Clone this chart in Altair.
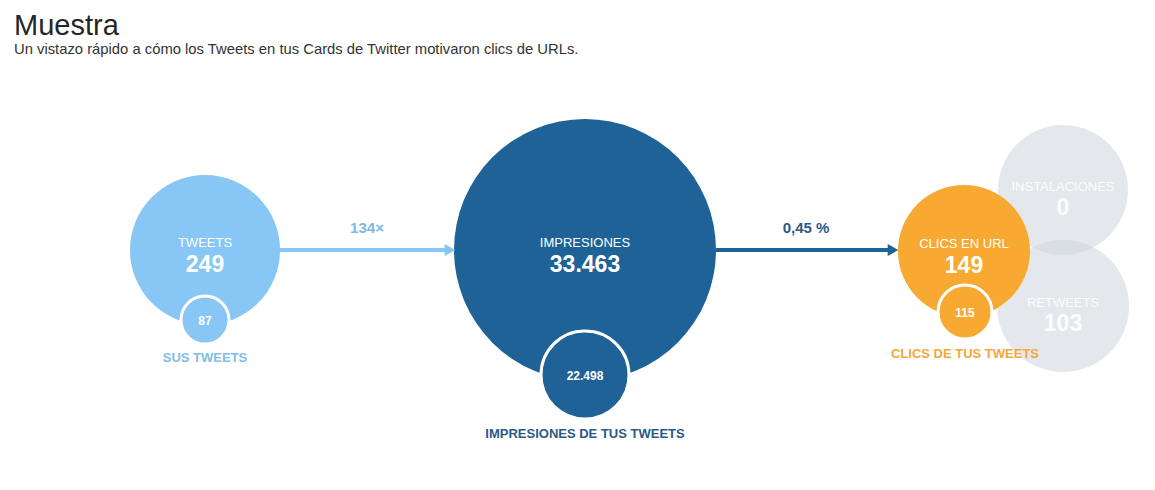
import altair as alt
import pandas as pd

# ---------------- values (text content) ----------------
title_text = "Muestra"
subtitle_text = "Un vistazo rápido a cómo los Tweets en tus Cards de Twitter motivaron clics de URLs."
node_labels = ["TWEETS", "IMPRESIONES", "CLICS EN URL", "INSTALACIONES", "RETWEETS"]
node_values = ["249", "33.463", "149", "0", "103"]
sub_values = ["87", "22.498", "115"]
sub_labels = ["SUS TWEETS", "IMPRESIONES DE TUS TWEETS", "CLICS DE TUS TWEETS"]
ratio_labels = ["134×", "0,45 %"]

# ---------------- layout (image pixel coordinates) ----------------
node_x = [205, 585, 964, 1063, 1063]
node_y = [250, 250, 251, 190, 306]
node_r = [75, 131, 66, 65, 66]
sub_x = [205, 585, 965]
sub_y = [320, 375, 312]
sub_r = [24, 44, 27]
sub_label_y = [358, 434, 354]
arrow_x1 = [280, 716]
arrow_x2 = [446, 889]
arrow_y = [250, 250]
ratio_x = [367, 806]
ratio_y = [228, 228]

# ---------------- styles ----------------
LB, DB, OR, GR = "#88c6f5", "#1e6297", "#f8a932", "#cdd5dd"
LB_T, DB_T, OR_T = "#7fbde6", "#2b5b8a", "#f3a83a"
FONT = "Liberation Sans"

W, H = 1135, 460
xs = alt.Scale(domain=[8, 8 + W], zero=False, nice=False)
ys = alt.Scale(domain=[8, 8 + H], zero=False, nice=False, reverse=True)


def X(f="x"):
    return alt.X(f"{f}:Q", scale=xs, axis=None)


def Y(f="y"):
    return alt.Y(f"{f}:Q", scale=ys, axis=None)


main_colors = [LB, DB, OR, GR, GR]
nodes = pd.DataFrame({
    "label": node_labels, "value": node_values,
    "x": node_x, "y": node_y,
    "size": [(2 * r) ** 2 for r in node_r],
    "color": main_colors,
})
gray_nodes = nodes.iloc[3:]
main_nodes = nodes.iloc[:3]

subs = pd.DataFrame({
    "value": sub_values, "label": sub_labels,
    "x": sub_x, "y": sub_y, "ly": sub_label_y,
    "size": [(2 * r) ** 2 for r in sub_r],
    "color": [LB, DB, OR], "tcolor": [LB_T, DB_T, OR_T],
})

arrows = pd.DataFrame({
    "x": arrow_x1, "x2": arrow_x2, "y": arrow_y,
    "color": [LB, DB],
})
heads = pd.DataFrame({
    "x": [x + 4 for x in arrow_x2], "y": arrow_y, "color": [LB, DB],
})
ratios = pd.DataFrame({
    "label": ratio_labels, "x": ratio_x, "y": ratio_y,
    "color": ["#80b8e0", DB_T],
})
titles = pd.DataFrame({
    "text": [title_text, subtitle_text],
    "x": [14, 14], "y": [35, 54],
})

gray_circles = alt.Chart(gray_nodes).mark_point(
    shape="circle", filled=True, opacity=0.55, strokeWidth=0
).encode(x=X(), y=Y(), size=alt.Size("size:Q", scale=None),
         color=alt.Color("color:N", scale=None))

main_circles = alt.Chart(main_nodes).mark_point(
    shape="circle", filled=True, opacity=1, strokeWidth=0
).encode(x=X(), y=Y(), size=alt.Size("size:Q", scale=None),
         color=alt.Color("color:N", scale=None))

arrow_lines = alt.Chart(arrows).mark_rule(strokeWidth=4).encode(
    x=X(), x2="x2:Q", y=Y(), color=alt.Color("color:N", scale=None))

arrow_heads = alt.Chart(heads).mark_point(
    shape="triangle-right", filled=True, opacity=1, size=150, strokeWidth=0
).encode(x=X(), y=Y(), color=alt.Color("color:N", scale=None))

sub_circles = alt.Chart(subs).mark_point(
    shape="circle", filled=True, opacity=1, stroke="white", strokeWidth=3
).encode(x=X(), y=Y(), size=alt.Size("size:Q", scale=None),
         fill=alt.Fill("color:N", scale=None))

main_label_text = alt.Chart(main_nodes).mark_text(
    font=FONT, fontSize=13, color="white", baseline="middle", dy=-7
).encode(x=X(), y=Y(), text="label:N")
main_value_text = alt.Chart(main_nodes).mark_text(
    font=FONT, fontSize=23, fontWeight="bold", color="white", baseline="middle", dy=15
).encode(x=X(), y=Y(), text="value:N")

gray_label_text = alt.Chart(gray_nodes).mark_text(
    font=FONT, fontSize=13, color="white", opacity=0.9, baseline="middle", dy=-3
).encode(x=X(), y=Y(), text="label:N")
gray_value_text = alt.Chart(gray_nodes).mark_text(
    font=FONT, fontSize=23, fontWeight="bold", color="white", opacity=0.9, baseline="middle", dy=18
).encode(x=X(), y=Y(), text="value:N")

sub_value_text = alt.Chart(subs).mark_text(
    font=FONT, fontSize=12, fontWeight="bold", color="white", baseline="middle", dy=1
).encode(x=X(), y=Y(), text="value:N")

sub_label_text = alt.Chart(subs).mark_text(
    font=FONT, fontSize=13, fontWeight="bold", baseline="middle"
).encode(x=X(), y=Y("ly"), text="label:N", color=alt.Color("tcolor:N", scale=None))

ratio_text = alt.Chart(ratios).mark_text(
    font=FONT, fontSize=15, fontWeight="bold", baseline="middle"
).encode(x=X(), y=Y(), text="label:N", color=alt.Color("color:N", scale=None))

title_t = alt.Chart(titles.iloc[:1]).mark_text(
    font=FONT, fontSize=29, color="#262626", align="left", baseline="alphabetic"
).encode(x=X(), y=Y(), text="text:N")
subtitle_t = alt.Chart(titles.iloc[1:]).mark_text(
    font=FONT, fontSize=14.8, color="#333333", align="left", baseline="alphabetic"
).encode(x=X(), y=Y(), text="text:N")

chart = alt.layer(
    gray_circles, main_circles, arrow_lines, arrow_heads, sub_circles,
    main_label_text, main_value_text, gray_label_text, gray_value_text,
    sub_value_text, sub_label_text, ratio_text, title_t, subtitle_t,
).properties(
    width=W, height=H, padding=0,
    autosize=alt.AutoSizeParams(type="none"),
    background="white",
).configure_view(stroke=None)

chart.save("out.html", embed_options={"renderer": "svg", "actions": False})
